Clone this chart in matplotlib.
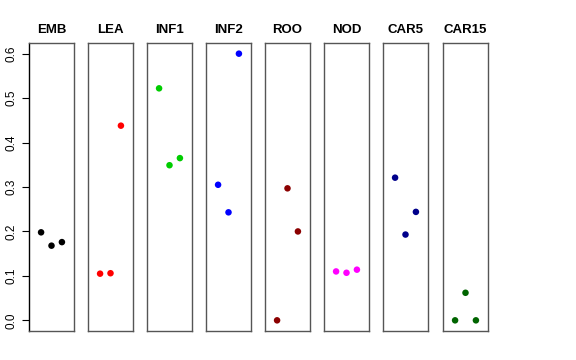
import matplotlib
matplotlib.use("Agg")
import matplotlib.pyplot as plt

plt.rcParams["font.family"] = ["Liberation Sans", "DejaVu Sans"]

tissues = ["EMB", "LEA", "INF1", "INF2", "ROO", "NOD", "CAR5", "CAR15"]
colors = ["black", "#ff0000", "#00cd00", "#0000ff", "#8b0000", "#ff00ff", "#00008b", "#006400"]
emb = [0.198, 0.168, 0.176]
lea = [0.105, 0.106, 0.438]
inf1 = [0.522, 0.349, 0.365]
inf2 = [0.305, 0.243, 0.600]
roo = [0.000, 0.297, 0.200]
nod = [0.110, 0.107, 0.114]
car5 = [0.321, 0.193, 0.244]
car15 = [0.000, 0.062, 0.000]
values = [emb, lea, inf1, inf2, roo, nod, car5, car15]
reps = [1, 2, 3]

W, H = 576, 360
fig = plt.figure(figsize=(W / 100, H / 100), dpi=100)

# panel boxes measured in pixels from the reference
lefts = [29, 88, 147, 206, 265, 324, 383, 443]
pw = 45
top, bottom = 43, 331

for i, (name, col, vals) in enumerate(zip(tissues, colors, values)):
    ax = fig.add_axes([lefts[i] / W, 1 - bottom / H, pw / W, (bottom - top) / H])
    ax.scatter(reps, vals, s=22, color=col, edgecolors="none", zorder=3)
    ax.set_xlim(-0.16, 4.16)
    ax.set_ylim(-0.024, 0.624)
    ax.set_xticks([])
    for sp in ax.spines.values():
        sp.set_color("#555555")
        sp.set_linewidth(1.0)
    ax.set_title(name, fontsize=9.5, fontweight="bold", pad=7)
    if i == 0:
        ax.set_yticks([0.0, 0.1, 0.2, 0.3, 0.4, 0.5, 0.6])
        ax.set_yticklabels(["0.0", "0.1", "0.2", "0.3", "0.4", "0.5", "0.6"],
                           rotation=90, va="center", fontsize=8.5)
        ax.tick_params(axis="y", length=5, width=0.8, pad=3)
        ax.spines["left"].set_color("black")
    else:
        ax.set_yticks([])

fig.savefig("out.png", dpi=100)
